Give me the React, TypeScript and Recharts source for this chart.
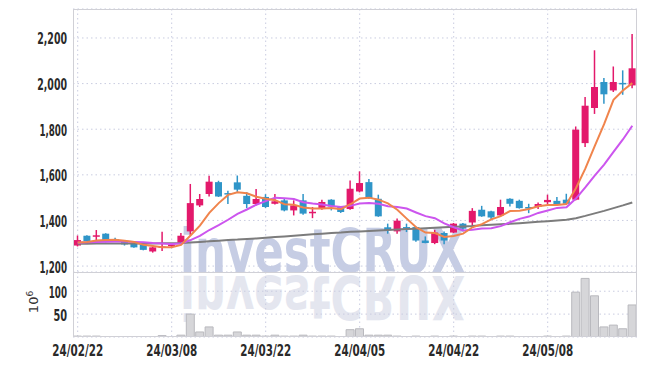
import React from 'react';
import { ComposedChart, Bar, Line, XAxis, YAxis, CartesianGrid } from 'recharts';

const dates = ['24/02/22','24/02/23','24/02/26','24/02/27','24/02/28','24/02/29','24/03/04','24/03/05','24/03/06','24/03/07','24/03/08','24/03/11','24/03/12','24/03/13','24/03/14','24/03/15','24/03/18','24/03/19','24/03/20','24/03/21','24/03/22','24/03/25','24/03/26','24/03/27','24/03/28','24/03/29','24/04/01','24/04/02','24/04/03','24/04/04','24/04/05','24/04/08','24/04/09','24/04/11','24/04/12','24/04/15','24/04/16','24/04/17','24/04/18','24/04/19','24/04/22','24/04/23','24/04/24','24/04/25','24/04/26','24/04/29','24/04/30','24/05/02','24/05/03','24/05/07','24/05/08','24/05/09','24/05/10','24/05/13','24/05/14','24/05/16','24/05/17','24/05/20','24/05/21','24/05/22'];

const opens = [1290,1333,1330,1342,1318,1308,1301,1295,1264,1280,1288,1302,1352,1466,1516,1568,1520,1567,1508,1472,1503,1473,1488,1444,1488,1434,1454,1491,1459,1450,1527,1568,1495,1370,1352,1371,1371,1312,1301,1345,1347,1386,1391,1447,1440,1422,1495,1486,1459,1459,1480,1486,1491,1491,1739,1893,2007,1970,2003,1992];
const highs = [1334,1335,1358,1344,1324,1310,1303,1297,1284,1350,1297,1345,1560,1516,1596,1574,1530,1597,1524,1538,1515,1516,1495,1488,1516,1459,1491,1493,1462,1575,1615,1582,1513,1386,1409,1386,1374,1330,1359,1352,1389,1389,1454,1464,1442,1491,1497,1491,1473,1479,1513,1503,1517,1812,1941,2146,2025,2075,2058,2217];
const lows = [1286,1308,1311,1304,1306,1290,1280,1269,1259,1266,1283,1296,1337,1459,1505,1503,1472,1525,1454,1466,1455,1470,1440,1422,1425,1410,1447,1444,1433,1447,1523,1494,1416,1342,1342,1349,1307,1300,1296,1296,1345,1352,1374,1416,1403,1418,1461,1452,1432,1450,1472,1469,1469,1488,1722,1867,1912,1963,1951,1980];
const closes = [1314,1310,1335,1306,1310,1295,1282,1271,1282,1286,1294,1333,1476,1494,1570,1505,1515,1535,1472,1494,1459,1484,1444,1466,1430,1438,1481,1461,1437,1539,1564,1498,1418,1357,1399,1366,1312,1301,1347,1312,1386,1364,1442,1418,1413,1459,1473,1454,1452,1472,1490,1472,1473,1798,1903,1985,1953,2007,2000,2067];
const volumes = [2,2,2,0,0,0,0,0,0,3,0,4,50,11,22,4,4,11,4,4,2,4,2,2,4,2,2,2,0,16,18,4,4,4,2,0,2,0,2,0,2,0,2,2,0,2,2,0,0,0,2,0,2,98,128,90,22,26,18,70];
const ma5 = [1303,1306,1312,1314,1315,1311,1306,1293,1288,1283,1283,1293,1334,1377,1433,1476,1512,1524,1519,1504,1495,1489,1471,1469,1457,1452,1452,1455,1449,1471,1496,1500,1491,1475,1447,1408,1370,1347,1345,1328,1332,1342,1370,1384,1405,1419,1441,1443,1450,1462,1468,1468,1472,1541,1627,1726,1822,1929,1970,2002];
const ma10 = [1302,1304,1306,1307,1308,1308,1306,1304,1301,1299,1297,1299,1314,1332,1358,1379,1403,1429,1448,1469,1485,1500,1497,1494,1480,1474,1470,1463,1459,1464,1474,1476,1473,1462,1459,1452,1435,1419,1410,1387,1370,1356,1359,1365,1366,1375,1392,1407,1417,1433,1444,1455,1458,1496,1545,1597,1645,1701,1755,1815];
const ma60 = [1298,1298,1299,1299,1299,1299,1299,1299,1299,1300,1300,1301,1303,1306,1309,1311,1314,1316,1319,1321,1324,1327,1330,1333,1336,1339,1342,1345,1347,1350,1352,1354,1356,1358,1360,1362,1364,1366,1368,1370,1372,1374,1376,1379,1381,1383,1385,1388,1391,1394,1397,1400,1403,1410,1420,1431,1442,1454,1466,1479];

const priceTicks = [1200, 1400, 1600, 1800, 2000, 2200];
const volumeTicks = [50, 100];
const dateTicks = ['24/02/22', '24/03/08', '24/03/22', '24/04/05', '24/04/22', '24/05/08'];

const data = dates.map((d, i) => ({
  date: d,
  open: opens[i],
  high: highs[i],
  low: lows[i],
  close: closes[i],
  range: [lows[i], highs[i]],
  volume: volumes[i],
  ma5: ma5[i],
  ma10: ma10[i],
  ma60: ma60[i],
}));

const UP = '#e3196b';
const DOWN = '#2f95c8';
const GRID = '#c9cce0';
const FONT = "'DejaVu Sans Condensed', 'DejaVu Sans', sans-serif";

const charW = (s: string) =>
  s.split('').reduce((a, ch) => a + (ch === '1' ? 4.6 : ch === ',' ? 2.6 : ch === '/' ? 5 : 6.8), 0);

const Candle = (props: any) => {
  const { x, y, width, height, payload } = props;
  if (!payload || x == null || y == null) return null;
  const { open, close, high, low } = payload;
  const top = Math.min(y, y + height);
  const h = Math.abs(height);
  const pix = (v: number) => (high === low ? top : top + ((high - v) / (high - low)) * h);
  const up = close >= open;
  const color = up ? UP : DOWN;
  const cx = x + width / 2;
  const bTop = pix(Math.max(open, close));
  const bBot = pix(Math.min(open, close));
  return (
    <g>
      <line x1={cx} x2={cx} y1={top} y2={top + h} stroke={color} strokeWidth={1.5} />
      <rect x={x} y={bTop} width={width} height={Math.max(bBot - bTop, 1.5)} fill={color} />
    </g>
  );
};

const YTick = (props: any) => {
  const { x, y, payload } = props;
  const s = Number(payload.value).toLocaleString('en-US');
  return (
    <text x={x + 2} y={y + 6.5} textAnchor="end" fontSize={15} fontWeight="bold" fontFamily={FONT}
      fill="#2a2a2a" textLength={charW(s)} lengthAdjust="spacingAndGlyphs">{s}</text>
  );
};

const XTick = (props: any) => {
  const { x, y, payload } = props;
  const s = String(payload.value);
  return (
    <text x={x} y={y + 11} textAnchor="middle" fontSize={15} fontWeight="bold" fontFamily={FONT}
      fill="#2a2a2a" textLength={charW(s)} lengthAdjust="spacingAndGlyphs">{s}</text>
  );
};

const vGen = (args: any) => {
  const { xAxis, offset } = args || {};
  const sc = xAxis && xAxis.scale;
  if (sc && typeof sc === 'function') {
    const bw = typeof sc.bandwidth === 'function' ? sc.bandwidth() : 0;
    const out = dateTicks.map((d) => sc(d) + bw / 2).filter((v: number) => Number.isFinite(v));
    if (out.length) return out;
  }
  const n = dates.length;
  return dateTicks.map((d) => offset.left + ((dates.indexOf(d) + 0.5) * offset.width) / n);
};

export default function App() {
  return (
    <div style={{ position: 'absolute', left: 0, top: 0, width: 647, height: 366, background: '#fff', overflow: 'hidden' }}>
      <svg width={647} height={366} style={{ position: 'absolute', left: 0, top: 0 }}>
        <text x={180} y={272} fontSize={60} fontWeight="bold" fontFamily={FONT} fill="#c6cde4"
          textLength={285} lengthAdjust="spacingAndGlyphs">investCRUX</text>
        <g transform="translate(0,548) scale(1,-1)">
          <text x={180} y={272} fontSize={60} fontWeight="bold" fontFamily={FONT} fill="#e4e6ef"
            textLength={285} lengthAdjust="spacingAndGlyphs">investCRUX</text>
        </g>
        <text transform="translate(38,302) rotate(-90)" textAnchor="middle" fontSize={13}
          fontFamily="'DejaVu Sans', sans-serif" fill="#333">10<tspan dy={-5} fontSize={9}>6</tspan></text>
      </svg>
      <div style={{ position: 'absolute', left: 0, top: 272 }}>
        <ComposedChart width={647} height={94} data={data} margin={{ top: 0, right: 10, bottom: 0, left: 0 }}
          barCategoryGap={0.5}>
          <CartesianGrid stroke={GRID} strokeDasharray="1.5 3" verticalCoordinatesGenerator={vGen} />
          <XAxis dataKey="date" height={29} ticks={dateTicks} interval={0} axisLine={false} tickLine={false} tick={<XTick />} />
          <YAxis width={73} domain={[0, 142]} ticks={volumeTicks} interval={0} allowDataOverflow
            axisLine={false} tickLine={false} tick={<YTick />} />
          <Bar dataKey="volume" fill="#d6d6d9" stroke="#b9b9be" strokeWidth={1} isAnimationActive={false} />
        </ComposedChart>
      </div>
      <div style={{ position: 'absolute', left: 0, top: 0 }}>
        <ComposedChart width={647} height={282} data={data} margin={{ top: 9, right: 10, bottom: 10, left: 0 }}>
          <CartesianGrid stroke={GRID} strokeDasharray="1.5 3" verticalCoordinatesGenerator={vGen} />
          <XAxis dataKey="date" hide />
          <YAxis width={73} domain={[1174, 2327]} ticks={priceTicks} interval={0} allowDataOverflow
            axisLine={false} tickLine={false} tick={<YTick />} />
          <Bar dataKey="range" barSize={7} shape={<Candle />} isAnimationActive={false} />
          <Line dataKey="ma60" type="linear" stroke="#7c7c7c" strokeWidth={2} dot={false} isAnimationActive={false} />
          <Line dataKey="ma10" type="linear" stroke="#cc55ee" strokeWidth={2} dot={false} isAnimationActive={false} />
          <Line dataKey="ma5" type="linear" stroke="#f0844c" strokeWidth={2} dot={false} isAnimationActive={false} />
        </ComposedChart>
      </div>
      <div style={{ position: 'absolute', left: 73, top: 9, width: 564, height: 328, border: '1px solid #d0d0d6', boxSizing: 'border-box', pointerEvents: 'none' }} />
      <div style={{ position: 'absolute', left: 73, top: 272, width: 564, height: 1, background: '#d0d0d6' }} />
    </div>
  );
}
